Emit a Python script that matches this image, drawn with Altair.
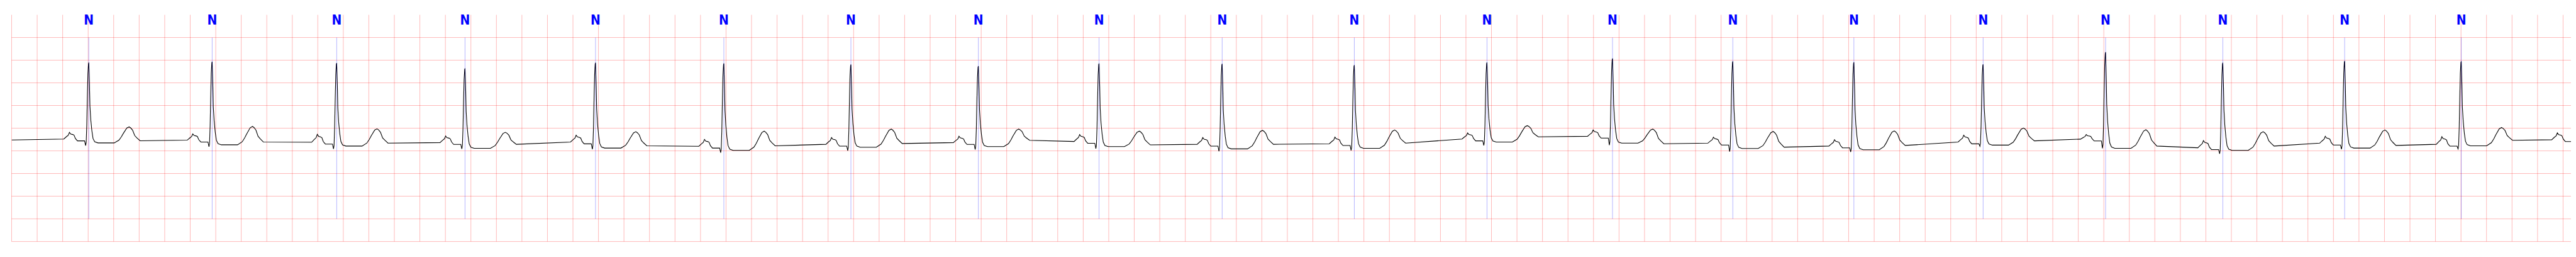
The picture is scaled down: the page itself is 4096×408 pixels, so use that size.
import altair as alt
import pandas as pd

# ---------------- data ----------------
x_end = 20.062                      # seconds shown
y_lo, y_hi = -2.5, 2.5              # mV

# annotated beats (R-peak times, s) and their labels
r_time = [0.605, 1.572, 2.548, 3.554, 4.577, 5.583, 6.579, 7.578, 8.524, 9.489,
          10.525, 11.565, 12.549, 13.492, 14.441, 15.454, 16.414, 17.333, 18.288, 19.202]
beat_label = ["N"] * 20

# per-beat levels (mV)
b_pre  = [-0.24, -0.265, -0.31, -0.318, -0.306, -0.399, -0.356, -0.318, -0.293, -0.356,
          -0.343, -0.24, -0.179, -0.331, -0.394, -0.306, -0.242, -0.432, -0.331, -0.356]
p_amp  = [-0.092, -0.126, -0.136, -0.172, -0.154, -0.247, -0.205, -0.179, -0.141, -0.205,
          -0.197, -0.104, -0.04, -0.197, -0.255, -0.154, -0.141, -0.273, -0.179, -0.187]
q_amp  = [-0.385, -0.41, -0.457, -0.457, -0.465, -0.54, -0.495, -0.47, -0.449, -0.508,
          -0.49, -0.381, -0.374, -0.515, -0.525, -0.399, -0.444, -0.566, -0.465, -0.457]
r_amp  = [1.447, 1.466, 1.437, 1.318, 1.444, 1.429, 1.404, 1.369, 1.429, 1.419,
          1.391, 1.449, 1.538, 1.475, 1.455, 1.407, 1.677, 1.444, 1.482, 1.475]
st_amp = [-0.325, -0.367, -0.394, -0.444, -0.439, -0.49, -0.42, -0.407, -0.407, -0.457,
          -0.444, -0.306, -0.331, -0.449, -0.475, -0.374, -0.444, -0.49, -0.439, -0.389]
t_amp  = [0.028, 0.038, -0.015, -0.091, -0.078, -0.066, -0.02, -0.02, -0.066, -0.048,
          -0.04, 0.056, -0.02, -0.073, -0.061, 0.003, -0.035, -0.078, -0.04, 0.015]
b_post = [-0.277, -0.306, -0.33, -0.356, -0.389, -0.389, -0.338, -0.268, -0.369, -0.356,
          -0.33, -0.192, -0.343, -0.419, -0.381, -0.28, -0.394, -0.394, -0.381, -0.268]

lead_in = -0.26                     # level at the left edge
tail_r_time, tail_b_pre, tail_p = 20.107, -0.255, -0.104   # P wave of the cut-off beat
pr_drop = 0.04

# beat shape read from a single complex (time offsets from R, s; fractions)
p_dt   = [-0.196, -0.177, -0.161, -0.152, -0.142, -0.125, -0.116, -0.105]
p_frac = [0.0, 0.33, 0.58, 1.0, 0.75, 0.67, 0.58, 0.08]
pr_dt  = [-0.089, -0.033]
qr_dt   = [-0.025, -0.0207, -0.0161, -0.0115, -0.0072, -0.0027, 0.0]
qr_frac = [0.0, 0.038, 0.243, 0.587, 0.862, 0.985, 1.0]
rs_dt   = [0.0054, 0.0089, 0.0153, 0.0241, 0.033, 0.046, 0.072, 0.199]
rs_frac = [0.716, 0.46, 0.29, 0.15, 0.055, 0.014, 0.0, 0.0]
tu_dt   = [0.236, 0.255, 0.271, 0.298, 0.316]
tu_frac = [0.17, 0.38, 0.6, 0.93, 1.0]
td_dt   = [0.328, 0.343, 0.36, 0.378, 0.402]
td_frac = [0.93, 0.77, 0.37, 0.2, 0.0]

# grid positions (0.2 s and 0.5 mV)
grid_t = [round(0.2 * i, 1) for i in range(101)]
grid_v = [-2.5, -2.0, -1.5, -1.0, -0.5, 0.0, 0.5, 1.0, 1.5, 2.0]
ann_hi, ann_lo = 2.0, -2.0

# ---------------- build the trace ----------------
rows = [(0.0, lead_in)]


def p_wave(r, bp, pa):
    out = [(r + d, bp + f * (pa - bp)) for d, f in zip(p_dt, p_frac)]
    out += [(r + d, bp - pr_drop) for d in pr_dt]
    return out


for i in range(len(r_time)):
    r = r_time[i]
    rows += p_wave(r, b_pre[i], p_amp[i])
    rows += [(r + d, q_amp[i] + f * (r_amp[i] - q_amp[i])) for d, f in zip(qr_dt, qr_frac)]
    rows += [(r + d, st_amp[i] + f * (r_amp[i] - st_amp[i])) for d, f in zip(rs_dt, rs_frac)]
    rows += [(r + d, st_amp[i] + f * (t_amp[i] - st_amp[i])) for d, f in zip(tu_dt, tu_frac)]
    rows += [(r + d, b_post[i] + f * (t_amp[i] - b_post[i])) for d, f in zip(td_dt, td_frac)]
rows += p_wave(tail_r_time, tail_b_pre, tail_p)

ecg = pd.DataFrame(rows, columns=["t", "mv"])
ecg["i"] = range(len(ecg))

ann = pd.DataFrame({"t": r_time, "label": beat_label,
                    "hi": [ann_hi] * len(r_time), "lo": [ann_lo] * len(r_time),
                    "top": [y_hi] * len(r_time)})
gx = pd.DataFrame({"t": grid_t})
gy = pd.DataFrame({"mv": grid_v})

# ---------------- chart ----------------
xs = alt.Scale(domain=[0, x_end], nice=False, zero=False)
ys = alt.Scale(domain=[y_lo, y_hi], nice=False, zero=False)
no_axis = None
GRID = dict(color="#ff0000", opacity=0.28, strokeWidth=1.0)

vgrid = alt.Chart(gx).mark_rule(**GRID).encode(
    x=alt.X("t:Q", scale=xs, axis=no_axis))
hgrid = alt.Chart(gy).mark_rule(**GRID).encode(
    y=alt.Y("mv:Q", scale=ys, axis=no_axis))

trace = alt.Chart(ecg).mark_line(color="black", strokeWidth=1.1, clip=True,
                                 interpolate="linear").encode(
    x=alt.X("t:Q", scale=xs, axis=no_axis),
    y=alt.Y("mv:Q", scale=ys, axis=no_axis), order="i:Q")

marks = alt.Chart(ann).mark_rule(color="#0000ff", strokeWidth=0.5, opacity=0.6).encode(
    x=alt.X("t:Q", scale=xs, axis=no_axis), y=alt.Y("hi:Q", scale=ys, axis=no_axis), y2="lo:Q")

text = alt.Chart(ann).mark_text(color="#0000ff", fontSize=21, fontWeight="bold",
                                font="Liberation Sans Narrow, DejaVu Sans Condensed, Arial Narrow, sans-serif",
                                baseline="top", align="center", dy=-2).encode(
    x=alt.X("t:Q", scale=xs, axis=no_axis), y=alt.Y("top:Q", scale=ys, axis=no_axis),
    text="label:N")

chart = alt.layer(vgrid, hgrid, trace, marks, text).properties(
    width=4071, height=360,
    padding={"left": 10.5, "top": 15.5, "right": 0, "bottom": 0},
    autosize=alt.AutoSizeParams(type="none"),
    background="white",
).configure_view(stroke=None)

chart.save("out.html", embed_options={"renderer": "svg", "actions": False})
